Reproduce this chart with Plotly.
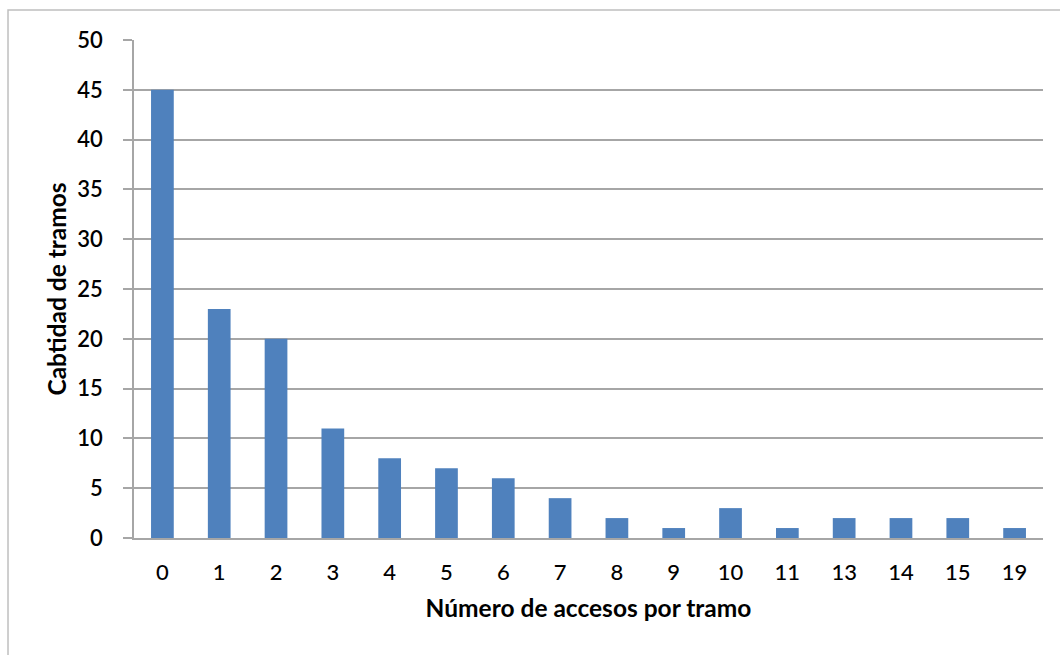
import plotly.graph_objects as go

# Number of accesses per road section and how many sections have that count
accesos = ["0", "1", "2", "3", "4", "5", "6", "7", "8", "9", "10", "11", "13", "14", "15", "19"]
tramos = [45, 23, 20, 11, 8, 7, 6, 4, 2, 1, 3, 1, 2, 2, 2, 1]
y_ticks = [0, 5, 10, 15, 20, 25, 30, 35, 40, 45, 50]

FONT = "Lato, Calibri, Carlito, sans-serif"
TEXT = "#000000"
GRID = "#A6A6A6"

fig = go.Figure(
    go.Bar(
        x=accesos,
        y=tramos,
        marker=dict(color="#4F81BD", line=dict(width=0)),
    )
)

fig.update_layout(
    width=1060,
    height=655,
    margin=dict(l=134, r=17, t=40, b=117, autoexpand=False),
    paper_bgcolor="white",
    plot_bgcolor="white",
    bargap=0.6,
    showlegend=False,
    font=dict(family=FONT, color=TEXT, size=22),
    xaxis=dict(
        type="category",
        showgrid=False,
        showline=True,
        linecolor=GRID,
        linewidth=1.5,
        ticks="",
        ticklabelstandoff=14,
        tickfont=dict(size=22, color=TEXT, weight=500),
        title=dict(
            text="<b>Número de accesos por tramo</b>",
            font=dict(size=24.5, color=TEXT),
            standoff=16,
        ),
    ),
    yaxis=dict(
        range=[0, 50],
        tickvals=y_ticks,
        showgrid=True,
        gridcolor=GRID,
        gridwidth=1.5,
        showline=True,
        linecolor=GRID,
        linewidth=1.5,
        ticks="outside",
        ticklen=9,
        tickcolor=GRID,
        tickwidth=1.5,
        ticklabelstandoff=16,
        tickfont=dict(size=22, color=TEXT, weight=600),
        zeroline=False,
        title=dict(
            text="<b>Cabtidad de tramos</b>",
            font=dict(size=24.5, color=TEXT),
            standoff=4,
        ),
    ),
    shapes=[
        # outer chart frame
        dict(
            type="rect",
            xref="paper",
            yref="paper",
            x0=-0.1386,
            x1=1.03,
            y0=-0.26,
            y1=1.0602,
            line=dict(color="#BFBFBF", width=1.5),
            fillcolor="rgba(0,0,0,0)",
            layer="below",
        )
    ],
)

fig.write_html("out.html")
